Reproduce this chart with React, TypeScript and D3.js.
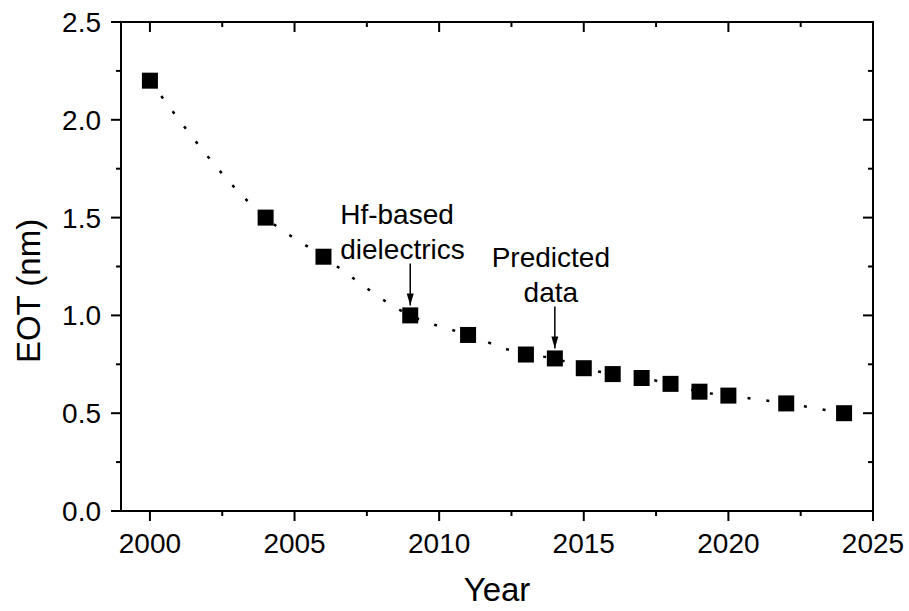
import { useMemo } from "react";
import * as d3 from "d3";

const YEARS = [2000, 2004, 2006, 2009, 2011, 2013, 2014, 2015, 2016, 2017, 2018, 2019, 2020, 2022, 2024];
const EOT = [2.2, 1.5, 1.3, 1.0, 0.9, 0.8, 0.78, 0.73, 0.7, 0.68, 0.65, 0.61, 0.59, 0.55, 0.5];

const X_TICKS = [2000, 2005, 2010, 2015, 2020, 2025];
const X_MINOR = [2002.5, 2007.5, 2012.5, 2017.5, 2022.5];
const Y_TICKS = [0, 0.5, 1.0, 1.5, 2.0, 2.5];
const Y_MINOR = [0.25, 0.75, 1.25, 1.75, 2.25];

const NOTES = [
  { lines: ["Hf-based", "dielectrics"], year: 2009, value: 1.0, anchor: "start", dx: -70 },
  { lines: ["Predicted", "data"], year: 2014, value: 0.78, anchor: "middle", dx: -4 },
];

const FONT = "'Liberation Sans', Arial, sans-serif";

export default function App() {
  const width = 909;
  const height = 611;
  const margin = { top: 22, right: 36, bottom: 100, left: 121 };

  const x = useMemo(
    () => d3.scaleLinear().domain([1999, 2025]).range([margin.left, width - margin.right]),
    []
  );
  const y = useMemo(
    () => d3.scaleLinear().domain([0, 2.5]).range([height - margin.bottom, margin.top]),
    []
  );

  const pts = YEARS.map((yr, i) => [x(yr), y(EOT[i])] as [number, number]);
  const linePath = d3.line().curve(d3.curveMonotoneX)(pts) ?? "";

  const x0 = x.range()[0];
  const x1 = x.range()[1];
  const y0 = y.range()[0];
  const y1 = y.range()[1];
  const major = 10;
  const minor = 5;
  const ms = 16;

  return (
    <svg
      width={width}
      height={height}
      style={{ position: "absolute", left: 0, top: 0, background: "#fff" }}
      fontFamily={FONT}
    >
      <defs>
        <marker id="arrow" viewBox="0 0 12 8" refX="12" refY="4" markerWidth="12" markerHeight="8" orient="auto" markerUnits="userSpaceOnUse">
          <path d="M0,0.5 L12,4 L0,7.5 Z" fill="#000" />
        </marker>
      </defs>

      {/* dotted connecting curve */}
      <path d={linePath} fill="none" stroke="#000" strokeWidth={2.5} strokeDasharray="3 16" />

      {pts.map(([px, py], i) => (
        <rect key={i} x={px - ms / 2} y={py - ms / 2} width={ms} height={ms} fill="#000" />
      ))}

      {/* frame */}
      <rect x={x0} y={y1} width={x1 - x0} height={y0 - y1} fill="none" stroke="#000" strokeWidth={2} />

      {/* bottom axis (outward) and top axis (inward) */}
      {X_TICKS.map((t) => (
        <g key={"x" + t}>
          <line x1={x(t)} x2={x(t)} y1={y0} y2={y0 + major} stroke="#000" strokeWidth={2} />
          <line x1={x(t)} x2={x(t)} y1={y1} y2={y1 + major} stroke="#000" strokeWidth={2} />
          <text x={x(t)} y={y0 + 42} textAnchor="middle" fontSize={28}>
            {t}
          </text>
        </g>
      ))}
      {X_MINOR.map((t) => (
        <g key={"xm" + t}>
          <line x1={x(t)} x2={x(t)} y1={y0} y2={y0 + minor} stroke="#000" strokeWidth={2} />
          <line x1={x(t)} x2={x(t)} y1={y1} y2={y1 + minor} stroke="#000" strokeWidth={2} />
        </g>
      ))}

      {/* left axis (outward) and right axis (inward) */}
      {Y_TICKS.map((t) => (
        <g key={"y" + t}>
          <line x1={x0 - major} x2={x0} y1={y(t)} y2={y(t)} stroke="#000" strokeWidth={2} />
          <line x1={x1 - major} x2={x1} y1={y(t)} y2={y(t)} stroke="#000" strokeWidth={2} />
          <text x={x0 - 20} y={y(t)} dy="0.36em" textAnchor="end" fontSize={28}>
            {t.toFixed(1)}
          </text>
        </g>
      ))}
      {Y_MINOR.map((t) => (
        <g key={"ym" + t}>
          <line x1={x0 - minor} x2={x0} y1={y(t)} y2={y(t)} stroke="#000" strokeWidth={2} />
          <line x1={x1 - minor} x2={x1} y1={y(t)} y2={y(t)} stroke="#000" strokeWidth={2} />
        </g>
      ))}

      {/* axis titles */}
      <text x={(x0 + x1) / 2} y={601} textAnchor="middle" fontSize={33}>
        Year
      </text>
      <text transform={`translate(40,291) rotate(-90)`} textAnchor="middle" fontSize={33}>
        EOT (nm)
      </text>

      {/* annotations */}
      {NOTES.map((n) => {
        const ax = x(n.year);
        const tipY = y(n.value) - ms / 2 - 2;
        return (
          <g key={n.lines[0]}>
            {n.lines.map((l, i) => (
              <text key={l} x={ax + n.dx} y={tipY - 81 + i * 35} textAnchor={n.anchor} fontSize={28}>
                {l}
              </text>
            ))}
            <line x1={ax} x2={ax} y1={tipY - 42} y2={tipY} stroke="#000" strokeWidth={1.5} markerEnd="url(#arrow)" />
          </g>
        );
      })}
    </svg>
  );
}
